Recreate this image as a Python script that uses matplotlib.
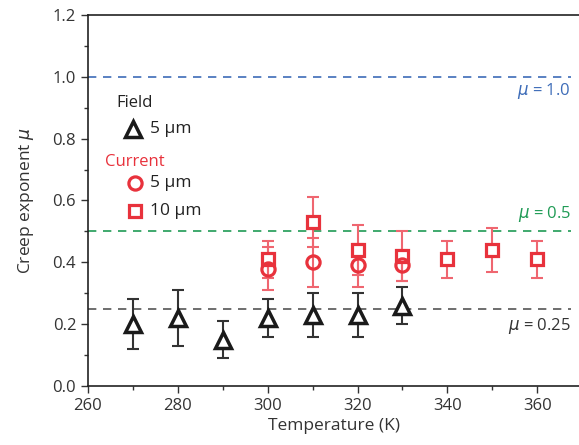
import matplotlib
matplotlib.use("Agg")
import matplotlib.pyplot as plt
from matplotlib.ticker import MultipleLocator

plt.rcParams['font.family'] = ['Open Sans', 'DejaVu Sans']
plt.rcParams['mathtext.fontset'] = 'dejavusans'

# Field, 5 um (triangles)
T_field = [270, 280, 290, 300, 310, 320, 330]
mu_field = [0.20, 0.22, 0.15, 0.22, 0.23, 0.23, 0.26]
err_field = [0.08, 0.09, 0.06, 0.06, 0.07, 0.07, 0.06]

# Current, 5 um (circles)
T_cur5 = [300, 310, 320, 330]
mu_cur5 = [0.38, 0.40, 0.39, 0.39]
err_cur5 = [0.07, 0.08, 0.07, 0.05]

# Current, 10 um (squares)
T_cur10 = [300, 310, 320, 330, 340, 350, 360]
mu_cur10 = [0.41, 0.53, 0.44, 0.42, 0.41, 0.44, 0.41]
err_cur10 = [0.06, 0.08, 0.08, 0.08, 0.06, 0.07, 0.06]

ref_levels = [1.0, 0.5, 0.25]
ref_labels = [r'$\mu$ = 1.0', r'$\mu$ = 0.5', r'$\mu$ = 0.25']
ref_colors = ['#3d6cb8', '#1f9b55', '#555555']

red = '#e8323c'
red_err = '#ef6670'
black = '#1a1a1a'

fig = plt.figure(figsize=(5.79, 4.45), dpi=100)
ax = fig.add_axes([88/579, 1-386/445, 1-88/579, (386-15)/445])

for lev, col in zip(ref_levels, ref_colors):
    ax.plot([260, 367.5], [lev, lev], ls=(0, (5, 4)), color=col, lw=1.2, zorder=1)

ax.errorbar(T_cur10, mu_cur10, yerr=err_cur10, fmt='none', ecolor=red_err, elinewidth=1.5, capsize=4, capthick=1.5, zorder=2)
ax.errorbar(T_cur5, mu_cur5, yerr=err_cur5, fmt='none', ecolor=red_err, elinewidth=1.5, capsize=4, capthick=1.5, zorder=2)
ax.errorbar(T_field, mu_field, yerr=err_field, fmt='none', ecolor='#333333', elinewidth=1.5, capsize=4, capthick=1.5, zorder=2)

ax.plot(T_cur10, mu_cur10, ls='none', marker='s', ms=8, mfc='white', mec=red, mew=2.3, zorder=3)
ax.plot(T_cur5, mu_cur5, ls='none', marker='o', ms=9.5, mfc='none', mec=red, mew=2.3, zorder=3)
ax.plot(T_field, mu_field, ls='none', marker='^', ms=11, mfc='white', mec=black, mew=2.5, zorder=3)

ax.set_xlim(260, 369.3)
ax.set_ylim(0, 1.2)
ax.xaxis.set_major_locator(MultipleLocator(20))
ax.xaxis.set_minor_locator(MultipleLocator(10))
ax.yaxis.set_major_locator(MultipleLocator(0.2))
ax.yaxis.set_minor_locator(MultipleLocator(0.1))
ax.yaxis.set_major_formatter(plt.FuncFormatter(lambda v, p: f'{v:.1f}'))
ax.tick_params(axis='both', which='major', length=5, width=1, labelsize=12, colors='#333333', labelcolor='#333333')
ax.tick_params(axis='both', which='minor', length=3, width=1, colors='#333333')
ax.spines['right'].set_visible(False)
for s in ['left', 'top', 'bottom']:
    ax.spines[s].set_color('#222222')
    ax.spines[s].set_linewidth(1.2)

ax.set_xlabel('Temperature (K)', fontsize=12.5, color='#333333', labelpad=3)
ax.set_ylabel(r'Creep exponent $\mu$', fontsize=12.5, color='#333333', labelpad=12)

# Annotations for reference lines
ax.text(367.5, 0.955, ref_labels[0], color=ref_colors[0], fontsize=12, ha='right', va='center')
ax.text(367.5, 0.555, ref_labels[1], color=ref_colors[1], fontsize=12, ha='right', va='center')
ax.text(367.5, 0.195, ref_labels[2], color='#333333', fontsize=12, ha='right', va='center')

# Hand-made legend
ax.text(266.3, 0.915, 'Field', color='#222222', fontsize=12, va='center')
ax.plot([270], [0.832], marker='^', ms=11, mfc='white', mec=black, mew=2.5, clip_on=False)
ax.text(273.8, 0.832, '5 µm', color='#222222', fontsize=12.5, va='center')
ax.text(263.8, 0.725, 'Current', color=red, fontsize=12, va='center')
ax.plot([270.5], [0.655], marker='o', ms=9.5, mfc='none', mec=red, mew=2.3)
ax.text(273.8, 0.655, '5 µm', color='#222222', fontsize=12.5, va='center')
ax.plot([270.5], [0.567], marker='s', ms=8, mfc='white', mec=red, mew=2.3)
ax.text(273.8, 0.567, '10 µm', color='#222222', fontsize=12.5, va='center')

fig.savefig('out.png', dpi=100)
